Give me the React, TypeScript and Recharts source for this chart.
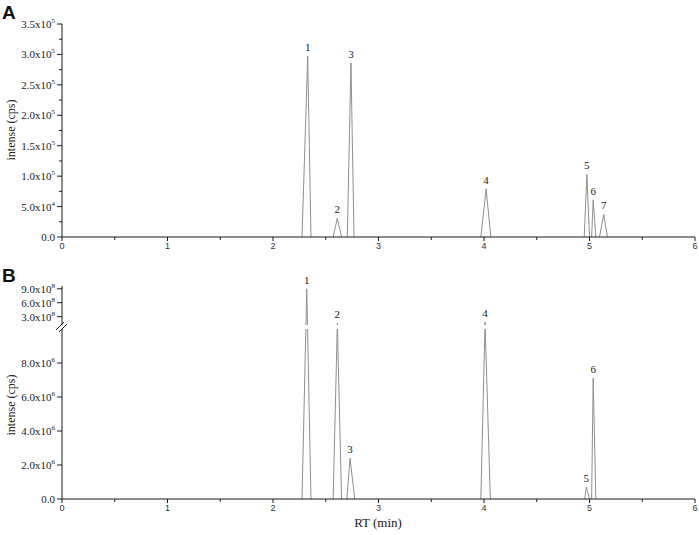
import React from 'react';
import { LineChart, Line, XAxis, YAxis, LabelList } from 'recharts';

// shared retention-time axis
const rtTicks = [0, 0.5, 1, 1.5, 2, 2.5, 3, 3.5, 4, 4.5, 5, 5.5, 6];
const rtLabels = ['0', '', '1', '', '2', '', '3', '', '4', '', '5', '', '6'];

// Panel A peaks
const peakNoA = ['1', '2', '3', '4', '5', '6', '7'];
const peakStartA = [2.275, 2.57, 2.704, 3.97, 4.95, 5.02, 5.095];
const peakApexA = [2.329, 2.61, 2.739, 4.02, 4.975, 5.035, 5.135];
const peakEndA = [2.36, 2.65, 2.768, 4.065, 5.0, 5.06, 5.17];
const peakHeightA = [2.97e5, 3.1e4, 2.86e5, 7.9e4, 1.03e5, 6.1e4, 3.7e4];

const yTicksA = [0, 2.5e4, 5e4, 7.5e4, 1e5, 1.25e5, 1.5e5, 1.75e5, 2e5, 2.25e5, 2.5e5, 2.75e5, 3e5, 3.25e5, 3.5e5];
const yLabelsA = ['0.0', '', '5.0x10^4', '', '1.0x10^5', '', '1.5x10^5', '', '2.0x10^5', '', '2.5x10^5', '', '3.0x10^5', '', '3.5x10^5'];

// Panel B peaks
const peakNoB = ['1', '2', '3', '4', '5', '6'];
const peakStartB = [2.275, 2.57, 2.70, 3.97, 4.955, 5.02];
const peakApexB = [2.32, 2.61, 2.73, 4.01, 4.97, 5.035];
const peakEndB = [2.36, 2.65, 2.775, 4.06, 5.0, 5.06];
const peakHeightB = [9.0e8, 1.55e8, 2.4e6, 1.85e8, 0.7e6, 7.1e6];

const yTicksB = [0, 2e6, 4e6, 6e6, 8e6, 3e8, 6e8, 9e8];
const yLabelsB = ['0.0', '2.0x10^6', '4.0x10^6', '6.0x10^6', '8.0x10^6', '3.0x10^8', '6.0x10^8', '9.0x10^8'];

// broken y axis of panel B: 0..1e7 below the break, 1.2e8..9.6e8 above it
const breakLowB = 1e7;
const breakHighB = 1.2e8;
const topB = 9.6e8;
const gapUnits = 4 / 17;
const upperUnits = 39 / 17;
const toScreenB = (v: number) => {
  if (v <= breakLowB) return v / 1e6;
  if (v <= breakHighB) return 10 + (gapUnits * (v - breakLowB)) / (breakHighB - breakLowB);
  return 10 + gapUnits + (upperUnits * (v - breakHighB)) / (topB - breakHighB);
};
const domainTopB = 10 + gapUnits + upperUnits;

const buildRows = (no: string[], s: number[], a: number[], e: number[], h: number[], map = (v: number) => v) => {
  const rows: any[] = [];
  no.forEach((n, i) => {
    rows.push({ rt: s[i], v: map(0) });
    rows.push({ rt: a[i], v: map(h[i]), tag: n });
    rows.push({ rt: e[i], v: map(0) });
    rows.push({ rt: e[i], v: null });
  });
  return rows;
};

const dataA = buildRows(peakNoA, peakStartA, peakApexA, peakEndA, peakHeightA);
const dataB = buildRows(peakNoB, peakStartB, peakApexB, peakEndB, peakHeightB, toScreenB);
const ticksB = yTicksB.map(toScreenB);

const AXIS = '#1a1a1a';
const PEAK = '#8f8f8f';
const SERIF = 'Liberation Serif, serif';
const SANS = 'Liberation Sans, sans-serif';

const YTick = (props: any) => {
  const { x, y, payload, ticks, labels } = props;
  const i = ticks.findIndex((t: number) => Math.abs(t - payload.value) < 1e-6 * Math.max(1, Math.abs(t)));
  const label: string = i >= 0 ? labels[i] : '';
  const major = label !== '';
  const [base, exp] = label.split('^');
  return (
    <g>
      <line x1={x} x2={x - (major ? 5 : 3)} y1={y} y2={y} stroke={AXIS} strokeWidth={1} />
      {major && (
        <text x={x - 7} y={y + 4} textAnchor="end" style={{ fontFamily: SERIF, fontSize: 11 }} fill="#222">
          {base}
          {exp && (
            <tspan dy={-5} style={{ fontSize: 7 }}>
              {exp}
            </tspan>
          )}
        </text>
      )}
    </g>
  );
};

const XTick = (props: any) => {
  const { x, y, payload } = props;
  const i = rtTicks.indexOf(payload.value);
  const label = i >= 0 ? rtLabels[i] : '';
  return (
    <g>
      <line x1={x} x2={x} y1={y} y2={y + (label ? 4 : 3)} stroke={AXIS} strokeWidth={1} />
      {label && (
        <text x={x} y={y + 12} textAnchor="middle" style={{ fontFamily: SANS, fontSize: 9 }} fill="#333">
          {label}
        </text>
      )}
    </g>
  );
};

export default function App() {
  return (
    <div style={{ position: 'absolute', left: 0, top: 0, width: 699, height: 535, background: '#fff' }}>
      <div style={{ position: 'absolute', left: 0, top: 0 }}>
        <LineChart width={699} height={260} data={dataA} margin={{ top: 24, right: 4, bottom: 0, left: 0 }}>
          <XAxis
            dataKey="rt"
            type="number"
            domain={[0, 6]}
            ticks={rtTicks}
            interval={0}
            height={23}
            tickSize={0}
            tickMargin={0}
            tickLine={false}
            axisLine={{ stroke: AXIS, strokeWidth: 1 }}
            tick={(p: any) => <XTick {...p} />}
          />
          <YAxis
            type="number"
            domain={[0, 3.5e5]}
            ticks={yTicksA}
            interval={0}
            width={62}
            tickSize={0}
            tickMargin={0}
            tickLine={false}
            axisLine={{ stroke: AXIS, strokeWidth: 1 }}
            tick={(p: any) => <YTick {...p} ticks={yTicksA} labels={yLabelsA} />}
          />
          <Line
            type="linear"
            dataKey="v"
            stroke={PEAK}
            strokeWidth={1}
            dot={false}
            activeDot={false}
            isAnimationActive={false}
          >
            <LabelList dataKey="tag" position="top" offset={5} fill="#222" style={{ fontFamily: SERIF, fontSize: 11 }} />
          </Line>
        </LineChart>
      </div>

      <div style={{ position: 'absolute', left: 0, top: 260 }}>
        <LineChart width={699} height={275} data={dataB} margin={{ top: 26, right: 4, bottom: 0, left: 0 }}>
          <XAxis
            dataKey="rt"
            type="number"
            domain={[0, 6]}
            ticks={rtTicks}
            interval={0}
            height={36}
            tickSize={0}
            tickMargin={0}
            tickLine={false}
            axisLine={{ stroke: AXIS, strokeWidth: 1 }}
            tick={(p: any) => <XTick {...p} />}
          />
          <YAxis
            type="number"
            domain={[0, domainTopB]}
            ticks={ticksB}
            interval={0}
            width={62}
            tickSize={0}
            tickMargin={0}
            tickLine={false}
            axisLine={{ stroke: AXIS, strokeWidth: 1 }}
            tick={(p: any) => <YTick {...p} ticks={ticksB} labels={yLabelsB} />}
          />
          <Line
            type="linear"
            dataKey="v"
            stroke={PEAK}
            strokeWidth={1}
            dot={false}
            activeDot={false}
            isAnimationActive={false}
          >
            <LabelList dataKey="tag" position="top" offset={5} fill="#222" style={{ fontFamily: SERIF, fontSize: 11 }} />
          </Line>
        </LineChart>
      </div>

      <svg width={699} height={535} style={{ position: 'absolute', left: 0, top: 0, pointerEvents: 'none' }}>
        <rect x={55} y={325} width={642} height={4} fill="#fff" />
        <line x1={56} y1={330} x2={64} y2={322} stroke={AXIS} strokeWidth={1} />
        <line x1={59} y1={332} x2={67} y2={324} stroke={AXIS} strokeWidth={1} />
        <text x={2} y={19} style={{ fontFamily: SANS, fontWeight: 'bold', fontSize: 19 }} fill="#111">A</text>
        <text x={2} y={282} style={{ fontFamily: SANS, fontWeight: 'bold', fontSize: 19 }} fill="#111">B</text>
        <text transform="translate(15,130) rotate(-90)" textAnchor="middle" style={{ fontFamily: SERIF, fontSize: 12 }} fill="#222">
          intense (cps)
        </text>
        <text transform="translate(15,405) rotate(-90)" textAnchor="middle" style={{ fontFamily: SERIF, fontSize: 12 }} fill="#222">
          intense (cps)
        </text>
        <text x={378} y={527} textAnchor="middle" style={{ fontFamily: SERIF, fontSize: 13 }} fill="#222">
          RT (min)
        </text>
      </svg>
    </div>
  );
}
